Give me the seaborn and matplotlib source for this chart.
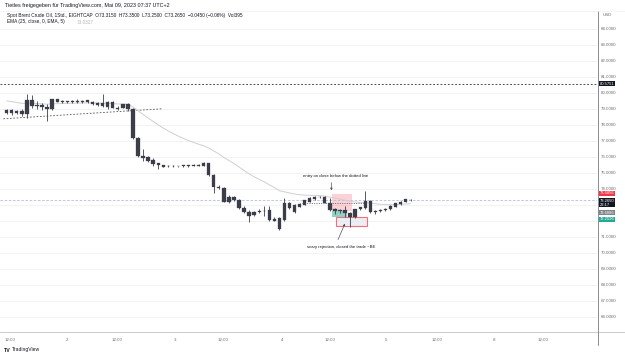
import numpy as np
import pandas as pd
import matplotlib
matplotlib.use("Agg")
import matplotlib.pyplot as plt
import matplotlib.transforms as mtransforms
from matplotlib.patches import Rectangle
import seaborn as sns

# ---------------- data ----------------
opens = [78.90, 78.72, 78.86, 78.84, 78.70, 79.52, 79.26, 79.22, 79.12, 78.96,
         79.58, 79.48, 79.39, 79.47, 79.41, 79.50, 79.40, 79.42, 79.36, 79.33,
         79.10, 79.44, 79.06, 79.06, 79.27, 79.00, 77.19, 76.04, 76.00, 75.77,
         75.58, 75.46, 75.40, 75.42, 75.39, 75.43, 75.41, 75.42, 75.48, 75.45,
         75.58, 74.86, 74.13, 74.03, 73.19, 73.50, 73.30, 72.77, 72.56, 72.35,
         72.52, 72.62, 72.67, 72.08, 72.15, 72.04, 73.08, 72.56, 72.88, 72.98,
         73.19, 73.33, 73.46, 73.50, 73.13, 72.70, 72.60, 72.67, 72.46, 72.25,
         72.71, 72.77, 73.25, 72.60, 72.58, 72.64, 72.71, 72.88, 73.06, 73.19,
         73.315]
highs = [78.97, 78.98, 78.92, 78.96, 79.90, 79.83, 79.48, 79.38, 79.27, 79.62,
         79.62, 79.52, 79.50, 79.53, 79.58, 79.55, 79.54, 79.46, 79.40, 79.94,
         79.48, 79.46, 79.17, 79.30, 79.38, 79.04, 77.22, 76.46, 76.06, 75.94,
         75.62, 75.50, 75.46, 75.47, 75.45, 75.48, 75.46, 75.52, 75.56, 75.65,
         75.62, 74.90, 74.22, 74.12, 73.58, 73.56, 73.36, 72.92, 72.65, 72.60,
         72.70, 72.90, 72.90, 72.20, 72.20, 73.40, 73.15, 73.02, 73.10, 73.32,
         73.48, 73.56, 73.54, 73.55, 73.40, 72.80, 72.72, 72.90, 72.55, 72.76,
         72.88, 73.85, 73.28, 72.68, 72.70, 72.80, 72.96, 73.12, 73.24, 73.36,
         73.35]
lows = [78.65, 78.62, 78.70, 78.56, 78.44, 79.06, 78.96, 78.92, 78.23, 78.92,
        79.42, 79.36, 79.36, 79.38, 79.33, 79.36, 79.38, 79.25, 79.18, 79.10,
        78.98, 79.02, 78.92, 79.02, 78.85, 77.10, 76.00, 75.73, 75.69, 75.44,
        75.21, 75.34, 75.36, 75.37, 75.35, 75.38, 75.37, 75.39, 75.42, 75.40,
        74.80, 73.71, 73.98, 73.15, 73.12, 73.25, 72.72, 72.50, 71.90, 72.30,
        72.45, 72.30, 72.00, 71.95, 71.40, 71.96, 72.70, 72.50, 72.85, 72.95,
        73.15, 73.30, 73.40, 73.10, 72.58, 72.40, 72.45, 72.25, 71.63, 72.15,
        72.65, 72.70, 72.48, 72.42, 72.52, 72.60, 72.65, 72.84, 73.00, 73.15,
        73.25]
closes = [78.72, 78.90, 78.76, 78.70, 79.52, 79.20, 79.17, 79.13, 78.96, 79.58,
          79.45, 79.39, 79.47, 79.41, 79.50, 79.39, 79.52, 79.28, 79.21, 79.17,
          79.44, 79.06, 79.00, 79.27, 79.00, 77.19, 76.04, 75.94, 75.73, 75.56,
          75.46, 75.38, 75.42, 75.39, 75.43, 75.41, 75.44, 75.48, 75.45, 75.58,
          74.86, 74.13, 74.03, 73.19, 73.50, 73.30, 72.77, 72.56, 72.31, 72.56,
          72.63, 72.58, 72.04, 72.00, 71.46, 73.08, 72.77, 72.98, 73.04, 73.29,
          73.44, 73.50, 73.50, 73.13, 72.67, 72.60, 72.69, 72.46, 72.25, 72.71,
          72.83, 73.25, 72.56, 72.55, 72.64, 72.75, 72.92, 73.08, 73.19, 73.33,
          73.265]

ema_period = 25
ema_seed = 79.55          # EMA level carried in from before the visible window

x_tick_labels = ["12:00", "2", "12:00", "3", "12:00", "4", "12:00", "5", "12:00", "8", "12:00"]
x_tick_pos = [0.65, 11.9, 21.8, 33.3, 42.8, 54.5, 64.0, 75.1, 85.2, 96.5, 106.2]
y_ticks = list(range(66, 85))
y_hidden = [72, 73]       # covered by the price-scale labels in the reference

level_resist = 80.5751
last_price = 73.265
entry_price = 72.6086
stop_price = 73.6856
target_price = 72.2596
dotted_level = 73.09
trend_x = [-0.67, 30.95]
trend_y = [78.37, 79.00]

# ---------------- derived ----------------
n = len(closes)
idx = np.arange(n)
alpha = 2.0 / (ema_period + 1)
ema = []
prev = ema_seed
for c in closes:
    prev = prev + alpha * (c - prev)
    ema.append(prev)
df = pd.DataFrame({"i": idx, "ema": ema})

# ---------------- figure ----------------
sns.set_style("white")
plt.rcParams["font.family"] = ["Liberation Sans", "DejaVu Sans"]

W, H = 625, 357
fig = plt.figure(figsize=(W / 100, H / 100), dpi=100)
ax = fig.add_axes([0, 25 / H, 597 / W, (332 - 11) / H])
ax.set_xlim(-1.33, 116.9)
ax.set_ylim(65.04, 85.11)

for s in ax.spines.values():
    s.set_visible(False)

ax.set_yticks(y_ticks)
ax.set_yticklabels(["" if v in y_hidden else f"{v:.4f}" for v in y_ticks])
ax.yaxis.tick_right()
ax.tick_params(axis="y", length=0, pad=3, labelsize=3.2, labelcolor="#6a6d78")
ax.set_xticks(x_tick_pos)
ax.set_xticklabels(x_tick_labels)
ax.tick_params(axis="x", length=0, pad=4.5, labelsize=3.2, labelcolor="#6a6d78")
ax.grid(axis="y", color="#eef0f3", lw=0.6)
ax.grid(axis="x", visible=False)
ax.set_axisbelow(True)

# horizontal lines
ax.axhline(level_resist, color="#2a2e39", lw=0.6, dashes=(2.2, 2.2), zorder=2)
ax.axhline(last_price, color="#b7bbe3", lw=0.6, dashes=(3, 2), zorder=2)

# trend line & dotted level
ax.plot(trend_x, trend_y, color="#50535e", lw=0.6, dashes=(2, 2), zorder=2)
ax.plot([58.5, 71.0], [dotted_level, dotted_level], color="#50535e", lw=0.6,
        dashes=(1.2, 1.6), zorder=5)

# EMA
sns.lineplot(data=df, x="i", y="ema", ax=ax, color="#cfcfcf", lw=0.7, zorder=2,
             legend=False)
ax.set_xlabel("")
ax.set_ylabel("")

# position tool
ax.add_patch(Rectangle((64.36, entry_price), 3.94, stop_price - entry_price,
                       facecolor="#f23645", alpha=0.22, edgecolor="none", zorder=1.5))
ax.add_patch(Rectangle((64.36, target_price), 2.94, entry_price - target_price,
                       facecolor="#089981", alpha=0.45, edgecolor="none", zorder=1.5))
# rejection box
ax.add_patch(Rectangle((65.2, 71.64), 6.2, 0.57, facecolor="#e6e8ee", alpha=0.7,
                       edgecolor="#f23645", lw=0.8, zorder=1.6))

# candles
ccol = "#3b3e48"
ax.vlines(idx, lows, highs, color=ccol, lw=0.6, zorder=3)
bot = np.minimum(opens, closes)
hgt = np.maximum(np.abs(np.array(closes) - np.array(opens)), 0.05)
ax.bar(idx, hgt, bottom=bot, width=0.66, color=ccol, edgecolor=ccol, lw=0.2, zorder=4)

# annotations
ax.text(65.2, 74.78, "entry on close below the dotted line", fontsize=3.1,
        color="#131722", ha="center", va="center", zorder=6)
ax.annotate("", xy=(64.3, 73.72), xytext=(64.3, 74.55),
            arrowprops=dict(arrowstyle="-|>", color="#50535e", lw=0.5,
                            mutation_scale=3), zorder=6)
ax.text(66.2, 70.36, "scary rejection, closed the trade ~BE", fontsize=3.1,
        color="#131722", ha="center", va="center", zorder=6)
ax.annotate("", xy=(67.2, 71.98), xytext=(65.4, 70.66),
            arrowprops=dict(arrowstyle="-|>", color="#50535e", lw=0.5,
                            mutation_scale=3), zorder=6)

# right-axis price labels
blend = mtransforms.blended_transform_factory(ax.transAxes, ax.transData)
labels = [
    ("80.5751", level_resist, "#131722", 0),
    ("73.6856", stop_price, "#f23645", 0.3),
    ("73.2650\n22:17", last_price, "#131722", -2.3),
    ("72.6086", entry_price, "#80838c", -1.8),
    ("72.2596", target_price, "#22ab94", -2.6),
]
for txt, yv, col, dy in labels:
    tr = mtransforms.offset_copy(blend, fig=fig, x=0, y=dy, units="dots")
    ax.text(1.004, yv, txt, transform=tr, fontsize=3.0, color="white",
            ha="left", va="center", linespacing=1.1, clip_on=False, zorder=10,
            bbox=dict(boxstyle="square,pad=0.12", fc=col, ec="none"))

# frame lines
fig.add_artist(plt.Line2D([0, 1], [1 - 332 / H, 1 - 332 / H], color="#c9ccd3", lw=0.7,
                          transform=fig.transFigure))
fig.add_artist(plt.Line2D([597.5 / W, 597.5 / W], [1 - 11 / H, 1 - 345 / H],
                          color="#8a8d96", lw=0.7, transform=fig.transFigure))
fig.add_artist(plt.Line2D([0, 1], [1 - 10.5 / H, 1 - 10.5 / H], color="#eceef2", lw=0.5,
                          transform=fig.transFigure))

# header texts
fig.text(5 / W, 1 - 5 / H, "Tietles freigegeben für TradingView.com, Mai 09, 2023 07:37 UTC+2",
         fontsize=3.9, color="#131722", va="center", ha="left")
fig.text(7 / W, 1 - 15.5 / H,
         "Spot Brent Crude Oil, 1Std., EIGHTCAP  O73.3150  H73.3500  L73.2500  C73.2650  \u22120.0450 (\u22120.06%)  Vol395",
         fontsize=3.4, color="#131722", va="center", ha="left")
fig.text(7 / W, 1 - 22 / H, "EMA (25, close, 0, EMA, 5)",
         fontsize=3.4, color="#131722", va="center", ha="left")
fig.text(77 / W, 1 - 22 / H, "73.0327", fontsize=3.4, color="#b2b5be",
         va="center", ha="left")
fig.text(603 / W, 1 - 15 / H, "USD", fontsize=3.2, color="#6a6d78", va="center", ha="left")

# logo
fig.text(4 / W, 1 - 350 / H, "TV", fontsize=3.8, fontweight="bold", color="#131722",
         va="center", ha="left")
fig.text(12 / W, 1 - 350 / H, "TradingView", fontsize=3.6, color="#131722",
         va="center", ha="left")

fig.savefig("out.png", dpi=100, facecolor="white")
